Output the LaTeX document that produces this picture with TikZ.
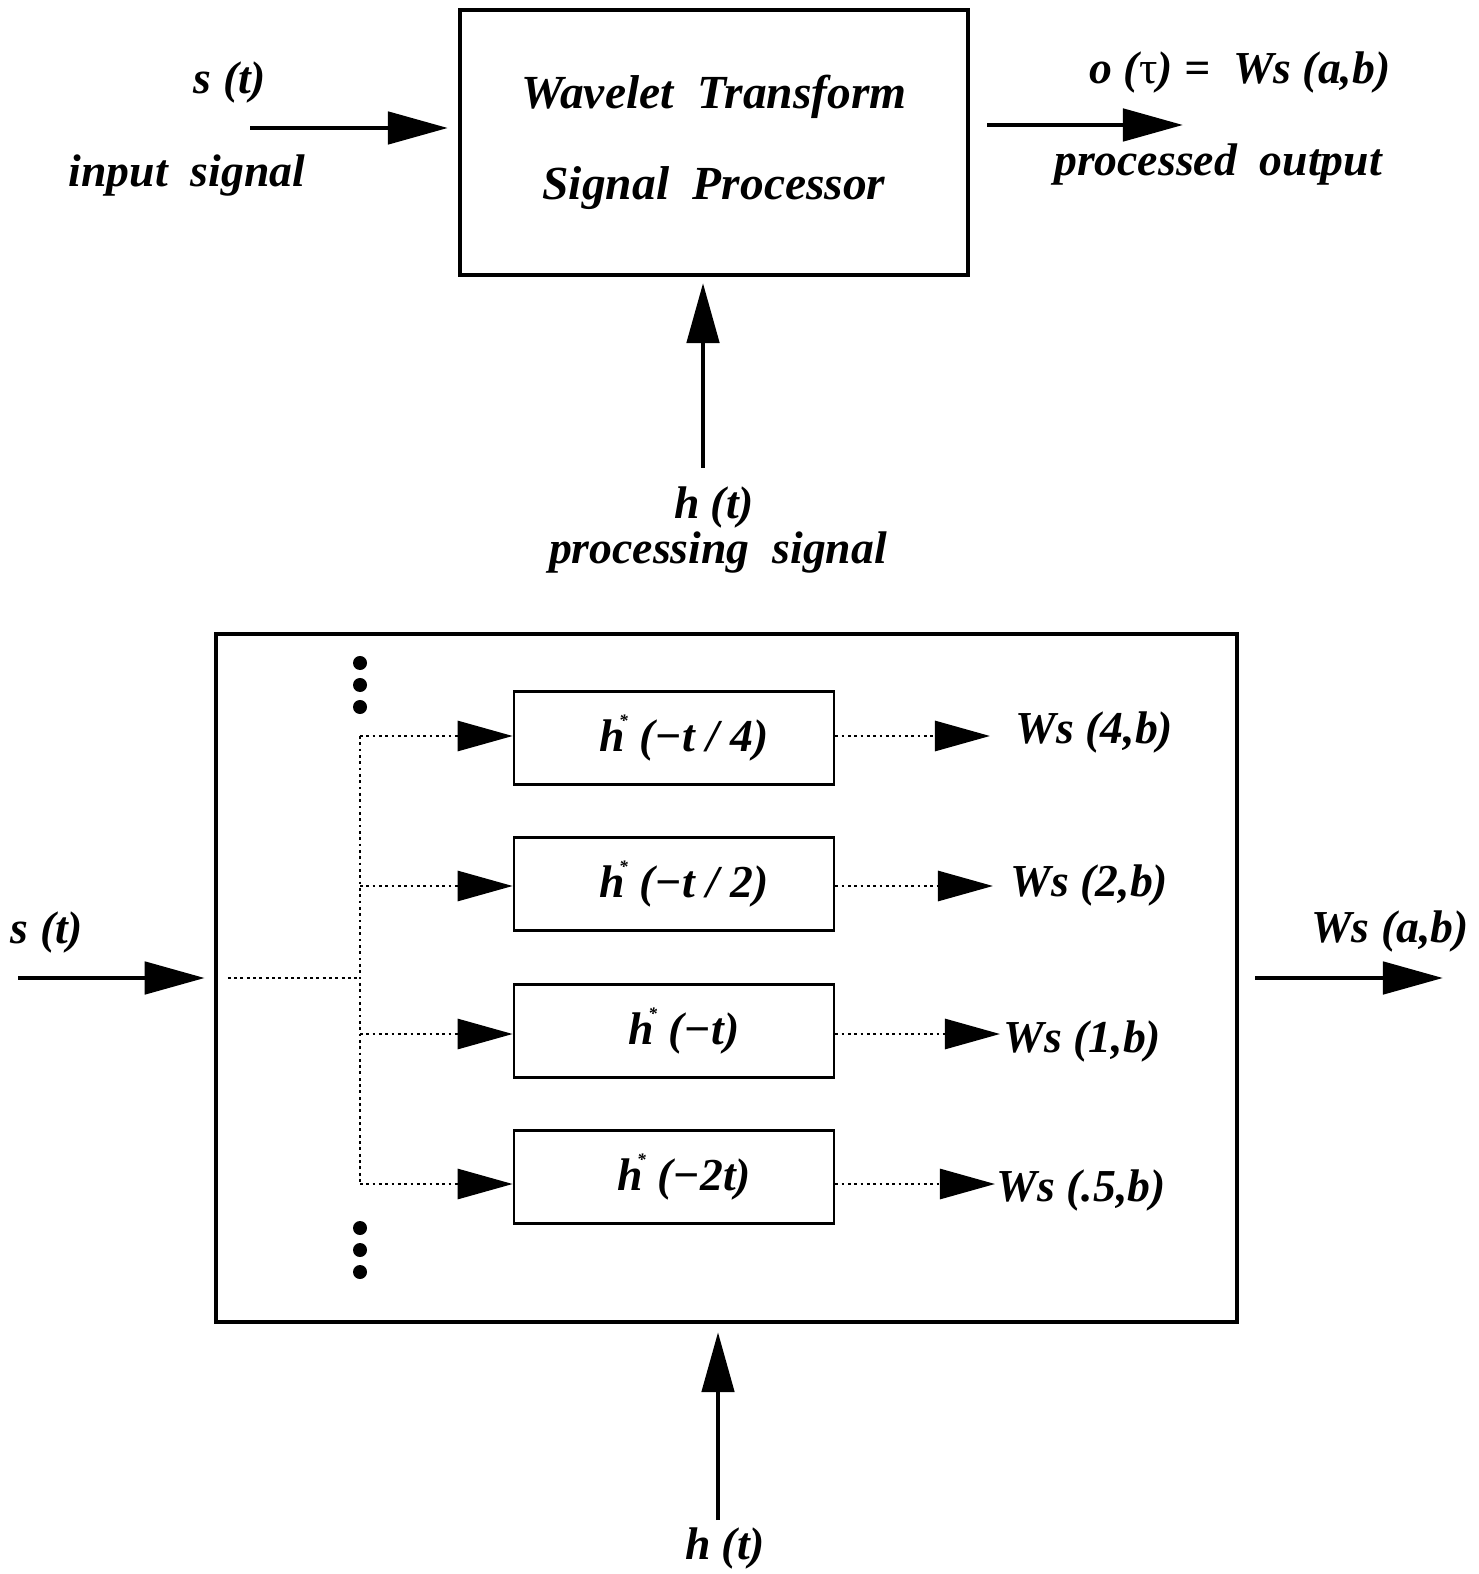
\documentclass[tikz,border=0pt]{standalone}
\usepackage{fontspec}
\setmainfont{Liberation Serif}
\usetikzlibrary{arrows.meta, positioning, calc}

\tikzset{
    lbl/.style={font=\fontsize{13}{15}\selectfont\bfseries\itshape, inner sep=0pt},
    sigarrow/.style={line width=1.4pt, -{Triangle[length=0.6cm, width=0.32cm]}},
    dotline/.style={line width=0.8pt, densely dotted},
    dotarrow/.style={dotline, -{Triangle[length=0.55cm, width=0.3cm]}},
    mainbox/.style={draw, line width=1.1pt},
    filterbox/.style={draw, line width=0.7pt, minimum width=3.2cm, minimum height=0.93cm,
        font=\fontsize{13}{15}\selectfont\bfseries\itshape}
}

\begin{document}
\begin{tikzpicture}[x=0.01cm, y=-0.01cm]
\useasboundingbox (0,0) rectangle (1478,1574);

% Top block
\node[mainbox, minimum width=5.08cm, minimum height=2.65cm, align=center,
    font=\fontsize{13.5}{26}\selectfont\bfseries\itshape] (wtsp) at (714,142.5)
    {Wavelet\ \ Transform\\Signal\ \ Processor};

\node[lbl] (st1) at (230,83) {s (t)};
\node[lbl] (insig) at (187,176) {input\ \ signal};
\coordinate (in1) at (250,128);
\draw[sigarrow] (in1) -- (in1 -| wtsp.west) [shorten >=0.1cm];

\node[lbl] (otau) at (1240,73) {o ({\upshape\mdseries τ}) =\ \ Ws (a,b)};
\node[lbl] (procout) at (1218,165) {processed\ \ output};
\coordinate (out1) at (1183,125);
\draw[sigarrow] (out1 -| wtsp.east) -- (out1) [shorten <=0.17cm];

\node[lbl] (ht1) at (714,508) {h (t)};
\node[lbl] (procsig) at (718,553) {processing\ \ signal};
\coordinate (hin1) at (703,468);
\draw[sigarrow] (hin1) -- (hin1 |- wtsp.south) [shorten >=0.06cm];

% Filter bank
\node[mainbox, minimum width=10.21cm, minimum height=6.88cm] (bank) at (726.5,978) {};

\node[lbl] (st2) at (47,933) {s (t)};
\coordinate (sin) at (18,978);
\draw[sigarrow] (sin) -- (bank.west) [shorten >=0.09cm];

\node[lbl] (wsab) at (1390,932) {Ws (a,b)};
\coordinate (wsout) at (1443,978);
\draw[sigarrow] (bank.east) -- (wsout) [shorten <=0.16cm];

\coordinate (split) at (360,978);
\draw[dotline] ($(bank.west)+(14,0)$) -- (split);
\draw[dotline] (360,736) -- (360,1184);

\foreach \y/\fy/\arg/\ws/\wx/\wy/\gap [count=\i] in {
    736/738/{(−t / 4)}/{4,b}/1015/733/0.25,
    886/884/{(−t / 2)}/{2,b}/1010/886/0.17,
    1034/1031/{(−t)}/{1,b}/1003/1042/0.03,
    1184/1177/{(−2t)}/{.5,b}/996/1190/0.01} {
    \node[filterbox] (f\i) at (674,\fy) {\hspace*{0.2cm}h\kern-0.12em\raisebox{0.55em}{\tiny *}\ \arg};
    \coordinate (br\i) at (360,\y);
    \draw[dotarrow] (br\i) -- (br\i -| f\i.west);
    \node[lbl, anchor=west] (ws\i) at (\wx,\wy) {Ws (\ws)};
    \draw[dotarrow, shorten >=\gap cm] (br\i -| f\i.east) -- (br\i -| ws\i.west);
}

% more scales
\foreach \y in {663,685,707,1228,1250,1272}
    \fill (360,\y) circle (0.07cm);

\node[lbl] (ht2) at (725,1548) {h (t)};
\coordinate (hin2) at (718,1520);
\draw[sigarrow] (hin2) -- (hin2 |- bank.south) [shorten >=0.08cm];
\end{tikzpicture}
\end{document}
